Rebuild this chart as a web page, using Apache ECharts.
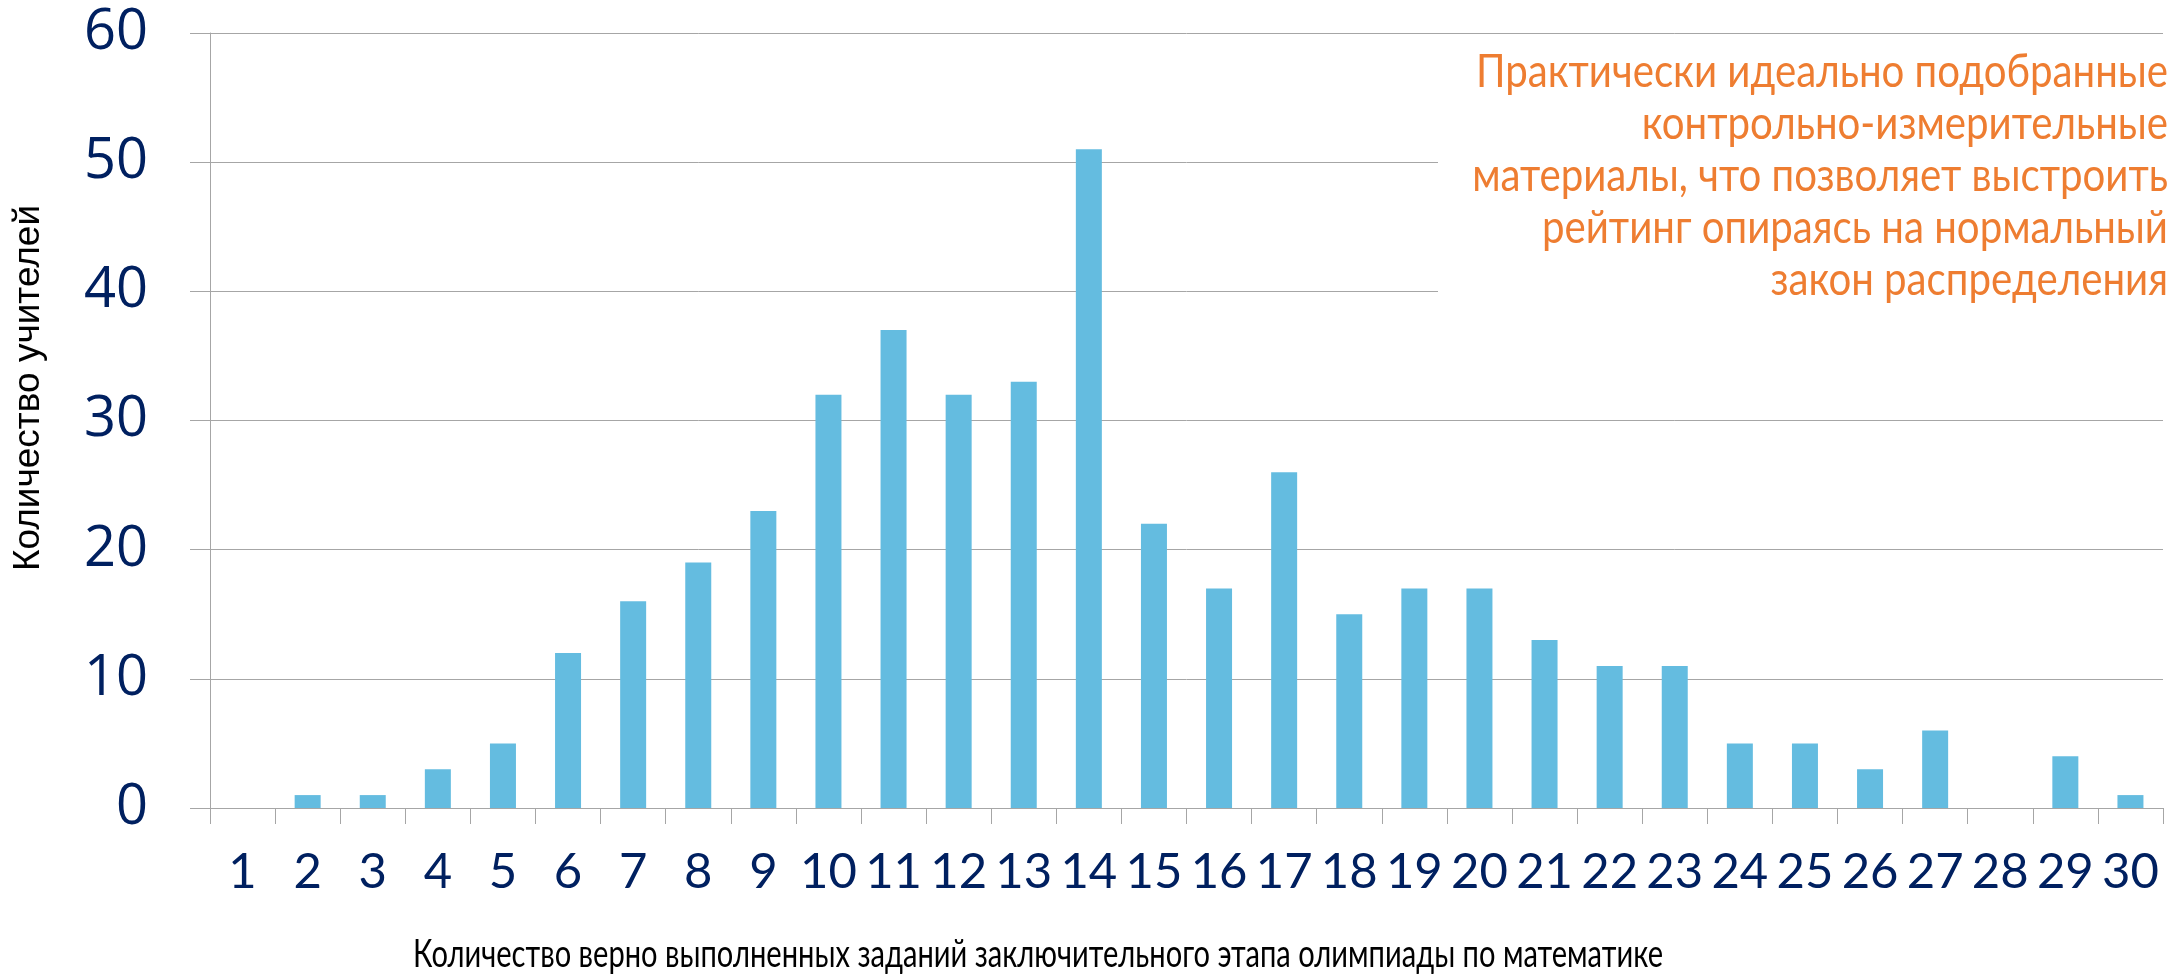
<!DOCTYPE html>
<html><head><meta charset="utf-8">
<script src="https://cdn.jsdelivr.net/npm/echarts@6/dist/echarts.min.js"></script>
<style>html,body{margin:0;padding:0;background:#fff}#c{width:2180px;height:977px}</style>
</head><body><div id="c"></div>
<script>
const categories = ['1','2','3','4','5','6','7','8','9','10','11','12','13','14','15','16','17','18','19','20','21','22','23','24','25','26','27','28','29','30'];
const teacherCounts = [0,1,1,3,5,12,16,19,23,32,37,32,33,51,22,17,26,15,17,17,13,11,11,5,5,3,6,0,4,1];
const yMin = 0, yMax = 60, yInterval = 10;
const xAxisTitle = 'Количество верно выполненных заданий заключительного этапа олимпиады по математике';
const yAxisTitle = 'Количество учителей';
const noteLines = [
  'Практически идеально подобранные',
  'контрольно-измерительные',
  'материалы, что позволяет выстроить',
  'рейтинг опираясь на нормальный',
  'закон распределения'
];

function measure(text, size, family){
  const ctx = document.createElement('canvas').getContext('2d');
  ctx.font = size + 'px ' + family;
  return ctx.measureText(text).width;
}

const noteFont = 'Lato', noteSize = 46;
const noteScale = 692 / measure(noteLines[0], noteSize, noteFont);
const xtFont = 'Lato', xtSize = 38;
const xtScale = 1250 / measure(xAxisTitle, xtSize, xtFont);

const gray = '#a6a6a6';
const navy = '#002060';

const graphics = [
  {type:'rect', z:100, shape:{x:1438, y:44, width:742, height:268}, style:{fill:'#ffffff'}},
  {type:'text', z:100, x:29, y:388, rotation:Math.PI/2,
   style:{text:yAxisTitle, fontFamily:'Liberation Sans', fontSize:37, fill:'#000', align:'center', verticalAlign:'middle'}},
  {type:'text', z:100, x:413, y:955, scaleX:xtScale,
   style:{text:xAxisTitle, fontFamily:xtFont, fontSize:xtSize, fill:'#000', align:'left', verticalAlign:'middle'}}
];
noteLines.forEach((t,i)=>{
  graphics.push({type:'text', z:101, x:2168, y:72 + i*52, scaleX:noteScale,
    style:{text:t, fontFamily:noteFont, fontSize:noteSize, fill:'#ee7d31', align:'right', verticalAlign:'middle'}});
});

const chart = echarts.init(document.getElementById('c'), null, {renderer:'canvas'});
chart.setOption({
  animation:false,
  backgroundColor:'#ffffff',
  grid:{left:210, right:17, top:33, bottom:169, containLabel:false},
  xAxis:{
    type:'category', data:categories, boundaryGap:true,
    axisLine:{show:true, lineStyle:{color:gray, width:1}},
    axisTick:{show:true, length:16, alignWithLabel:false, lineStyle:{color:gray, width:1}},
    axisLabel:{interval:0, margin:40, fontFamily:'Lato', fontSize:49, color:navy}
  },
  yAxis:{
    type:'value', min:yMin, max:yMax, interval:yInterval,
    axisLine:{show:true, lineStyle:{color:gray, width:1}},
    axisTick:{show:true, length:20, lineStyle:{color:gray, width:1}},
    splitLine:{show:true, lineStyle:{color:gray, width:1}},
    axisLabel:{margin:62, fontFamily:'Open Sans', fontSize:56, color:navy}
  },
  series:[{
    type:'bar', data:teacherCounts, barWidth:26,
    itemStyle:{color:'#64bce0'}
  }],
  graphic:graphics
});
</script>
</body></html>
